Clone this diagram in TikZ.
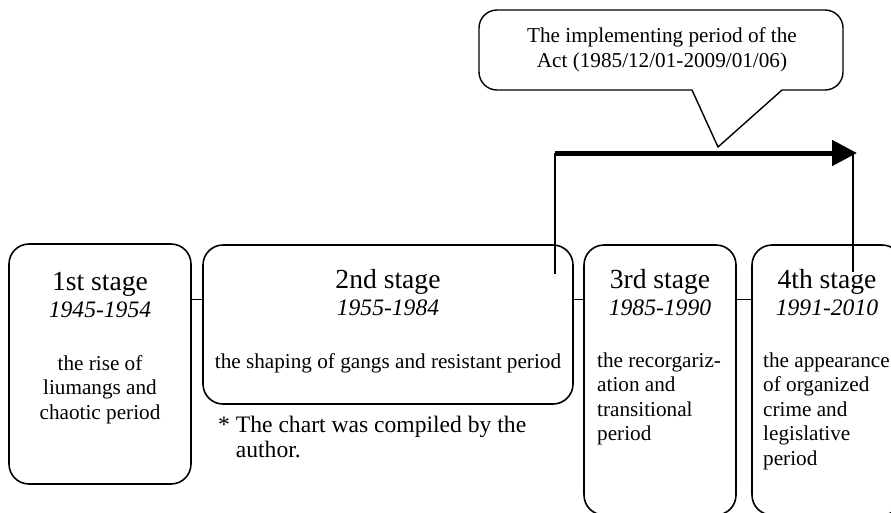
\documentclass[tikz,border=0pt]{standalone}
\usepackage{fontspec}
\setmainfont{Liberation Serif}
\usetikzlibrary{arrows.meta}
\begin{document}
\begin{tikzpicture}[x=1pt, y=-1pt, line join=round,
    stagebox/.style={draw, line width=1.6pt, rounded corners=20pt, inner sep=0pt},
    stagename/.style={inner sep=0pt, font=\fontsize{27.6}{30}\selectfont},
    stagedate/.style={inner sep=0pt, font=\fontsize{23.6}{27}\selectfont\itshape},
    stagetext/.style={inner sep=0pt, font=\fontsize{21.2}{24.6}\selectfont},
    notetext/.style={inner sep=0pt, font=\fontsize{23.6}{24.5}\selectfont},
    link/.style={line width=1.3pt},
    balloon/.style={line width=1.4pt}]
  \useasboundingbox (0,0) rectangle (891,512);
  \clip (0,0) rectangle (891,512);
  % stage boxes
  \node[stagebox, minimum width=182pt, minimum height=240pt] (s1) at (100,364) {};
  \node[stagebox, minimum width=370pt, minimum height=159pt] (s2) at (388,324.5) {};
  \node[stagebox, minimum width=152pt, minimum height=270pt] (s3) at (660,380) {};
  \node[stagebox, minimum width=150pt, minimum height=270pt] (s4) at (827,380) {};
  \draw[link] ([yshift=-56pt]s1.north east) -- ([yshift=-55pt]s2.north west);
  \draw[link] ([yshift=-55pt]s2.north east) -- ([yshift=-55pt]s3.north west);
  \draw[link] ([yshift=-55pt]s3.north east) -- ([yshift=-55pt]s4.north west);
  % texts (multi-line nodes sit on their last baseline)
  \node[stagename, anchor=base] (n1) at (100,290) {1st stage};
  \node[stagedate, anchor=base] (d1) at (100,317) {1945-1954};
  \node[stagetext, anchor=base, align=center] (b1) at (100,419.5)
    {the rise of\\liumangs and\\chaotic period};
  \node[stagename, anchor=base] (n2) at (388,288) {2nd stage};
  \node[stagedate, anchor=base] (d2) at (388,315) {1955-1984};
  \node[stagetext, anchor=base] (b2) at (388,368)
    {the shaping of gangs and resistant period};
  \node[stagename, anchor=base] (n3) at (660,288) {3rd stage};
  \node[stagedate, anchor=base] (d3) at (660,315) {1985-1990};
  \node[stagetext, anchor=base west, align=left] (b3) at (597,440.8)
    {the recorgariz-\\ation and\\transitional\\period};
  \node[stagename, anchor=base] (n4) at (827,288) {4th stage};
  \node[stagedate, anchor=base] (d4) at (827,315) {1991-2010};
  \node[stagetext, anchor=base west, align=left] (b4) at (763,465.4)
    {the appearance\\of organized\\crime and\\legislative\\period};
  \node[notetext, anchor=base west, align=left] (note) at (218,457)
    {* The chart was compiled by the\\\phantom{*} author.};
  % the Act
  \coordinate (actstart) at (555,274);
  \coordinate (actleft) at (555,153);
  \coordinate (actright) at (857,153);
  \coordinate (actdrop) at (853,153);
  \coordinate (actend) at (853,272);
  \draw[link] (actstart) -- (actleft);
  \draw[line width=5pt, -{Triangle[length=25pt, width=25pt]}] (actleft) -- (actright);
  \draw[link] (actdrop) -- (actend);
  \draw[balloon] (692,90) [rounded corners=18pt] -- (479,90) -- (479,10)
    -- (843,10) -- (843,90) [sharp corners] -- (782,90) -- (718,147) -- cycle;
  \node[stagetext, anchor=base, align=center] (act) at (662,67.1)
    {The implementing period of the\\Act (1985/12/01-2009/01/06)};
\end{tikzpicture}
\end{document}
